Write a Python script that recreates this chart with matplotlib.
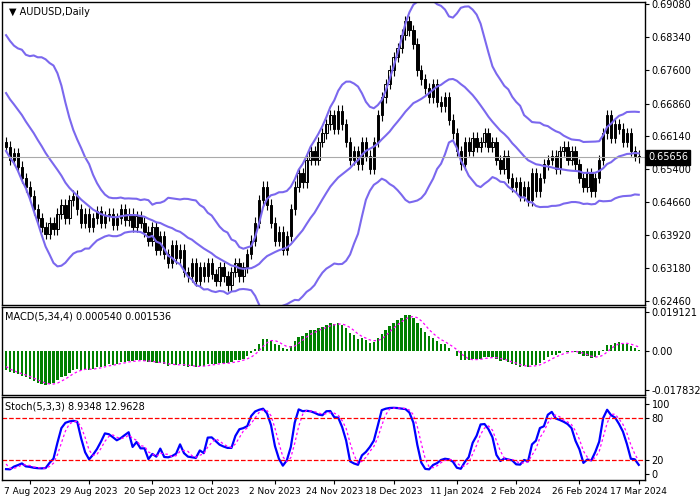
import numpy as np
import matplotlib
matplotlib.use('Agg')
import matplotlib.pyplot as plt

# history used only to warm up the indicators
history = [0.6820, 0.6840, 0.6800, 0.6780, 0.6760, 0.6790, 0.6740, 0.6710, 0.6730, 0.6690,
           0.6700, 0.6680, 0.6650, 0.6690, 0.6720, 0.6740, 0.6700, 0.6660, 0.6620, 0.6600]

closes = [0.6590, 0.6560, 0.6575,
          0.6545, 0.6520, 0.6500, 0.6480, 0.6450, 0.6430, 0.6410, 0.6395,
          0.6420, 0.6405, 0.6440, 0.6460, 0.6430, 0.6470, 0.6480,
          0.6450, 0.6420, 0.6440, 0.6410, 0.6430, 0.6445, 0.6420, 0.6435, 0.6440, 0.6415, 0.6430,
          0.6450, 0.6425, 0.6440, 0.6410, 0.6435, 0.6420,
          0.6400, 0.6380, 0.6410, 0.6360, 0.6390, 0.6350, 0.6330, 0.6370,
          0.6340, 0.6360, 0.6310, 0.6300, 0.6330, 0.6290, 0.6320, 0.6300,
          0.6330, 0.6305, 0.6290, 0.6320, 0.6300, 0.6280, 0.6310, 0.6330, 0.6300, 0.6320,
          0.6350, 0.6380, 0.6420, 0.6470, 0.6500,
          0.6460, 0.6420, 0.6380, 0.6400, 0.6360, 0.6390,
          0.6450, 0.6500, 0.6530, 0.6510, 0.6560, 0.6580, 0.6560, 0.6600, 0.6620,
          0.6640, 0.6660, 0.6630, 0.6670, 0.6640, 0.6600,
          0.6560, 0.6580, 0.6550, 0.6600, 0.6570, 0.6540, 0.6600,
          0.6660, 0.6700, 0.6730, 0.6760, 0.6790,
          0.6810, 0.6840, 0.6870, 0.6850, 0.6820, 0.6760,
          0.6740, 0.6720, 0.6700, 0.6730, 0.6690, 0.6680, 0.6700, 0.6650,
          0.6620, 0.6580, 0.6550, 0.6600, 0.6580, 0.6610, 0.6590, 0.6600,
          0.6620, 0.6590, 0.6600, 0.6560, 0.6540, 0.6570, 0.6520, 0.6500,
          0.6510, 0.6480, 0.6500, 0.6470, 0.6530, 0.6490, 0.6520, 0.6550,
          0.6560, 0.6570, 0.6540, 0.6580, 0.6590, 0.6560, 0.6580, 0.6550,
          0.6520, 0.6500, 0.6530, 0.6490, 0.6520, 0.6560,
          0.6620, 0.6660, 0.6610, 0.6640, 0.6630, 0.6600,
          0.6620, 0.6580, 0.6570, 0.65656]

date_labels = ['7 Aug 2023', '29 Aug 2023', '20 Sep 2023', '12 Oct 2023', '2 Nov 2023',
               '24 Nov 2023', '18 Dec 2023', '11 Jan 2024', '2 Feb 2024', '26 Feb 2024', '17 Mar 2024']
date_idx = [6, 21, 37, 52, 68, 83, 98, 114, 129, 145, 160]
price_ticks = [0.69080, 0.68340, 0.67600, 0.66860, 0.66140, 0.65400, 0.64660, 0.63920, 0.63180, 0.62460]

allc = np.array(history + closes)
opens = np.concatenate([[allc[0]], allc[:-1]])
wick = 0.0012
highs = np.maximum(opens, allc) + wick
lows = np.minimum(opens, allc) - wick
H = len(history)
n = len(closes)
x = np.arange(n)

def ema(a, p):
    out = np.zeros_like(a); k = 2 / (p + 1); out[0] = a[0]
    for i in range(1, len(a)):
        out[i] = a[i] * k + out[i - 1] * (1 - k)
    return out

def sma(a, p):
    return np.array([a[max(0, i - p + 1):i + 1].mean() for i in range(len(a))])

mid = sma(allc, 20)
sd = np.array([allc[max(0, i - 19):i + 1].std() for i in range(len(allc))])
up, dn = mid + 2 * sd, mid - 2 * sd

macd = ema(allc, 5) - ema(allc, 34)
sig = sma(macd, 4)

ll = np.array([lows[max(0, i - 4):i + 1].min() for i in range(len(allc))])
hh = np.array([highs[max(0, i - 4):i + 1].max() for i in range(len(allc))])
num = sma(allc - ll, 3); den = sma(hh - ll, 3)
k = 100 * num / den
d = sma(k, 3)

band_c = '#7b68ee'
fig = plt.figure(figsize=(7, 5), dpi=100)
ax = fig.add_axes([0.003, 0.39, 0.918, 0.606])
ax2 = fig.add_axes([0.003, 0.21, 0.918, 0.176])
ax3 = fig.add_axes([0.003, 0.04, 0.918, 0.166])

o = opens[H:]; c = allc[H:]; h = highs[H:]; l = lows[H:]
for i in range(n):
    ax.vlines(x[i], l[i], h[i], color='black', lw=0.8)
    bull = c[i] >= o[i]
    ax.bar(x[i], max(abs(c[i] - o[i]), 0.0001), bottom=min(o[i], c[i]), width=0.6,
           color='white' if bull else 'black', edgecolor='black', lw=0.7)
for b in (up, mid, dn):
    ax.plot(x, b[H:], color=band_c, lw=1.5)
ax.axhline(closes[-1], color='#aaaaaa', lw=0.8)
ax.set_ylim(0.6236, 0.6913)
ax.set_xlim(-1, n + 0.5)
ax.yaxis.tick_right()
ax.set_yticks(price_ticks)
ax.set_yticklabels(['%.5f' % p for p in price_ticks], fontsize=7)
ax.set_xticks([])
ax.text(1.005, closes[-1], '%.5f' % closes[-1], transform=ax.get_yaxis_transform(),
        fontsize=7, color='white', va='center', bbox=dict(fc='black', ec='black', pad=1.5))
ax.text(0.01, 0.985, '▼ AUDUSD,Daily', transform=ax.transAxes, fontsize=7, va='top')

m = macd[H:]; s = sig[H:]
ax2.bar(x, m, width=0.6, color='#008000')
ax2.plot(x, s, color='#ff00ff', lw=0.9, ls=(0, (2, 2)))
lo, hi = m.min() * 1.15, m.max() * 1.1
ax2.set_ylim(lo * 1.12, hi * 1.12)
ax2.set_xlim(-1, n + 0.5)
ax2.yaxis.tick_right()
ax2.set_yticks([hi, 0, lo])
ax2.set_yticklabels(['0.019121', '0.00', '-0.017832'], fontsize=7)
ax2.set_xticks([])
ax2.text(0.005, 0.95, 'MACD(5,34,4) 0.000540 0.001536', transform=ax2.transAxes, fontsize=7, va='top')

ax3.plot(x, k[H:], color='#0000ff', lw=1.6)
ax3.plot(x, d[H:], color='#ff00ff', lw=0.9, ls=(0, (2, 2)))
ax3.axhline(80, color='red', lw=0.9, ls='--')
ax3.axhline(20, color='red', lw=0.9, ls='--')
ax3.set_ylim(-8, 110)
ax3.set_xlim(-1, n + 0.5)
ax3.yaxis.tick_right()
ax3.set_yticks([100, 80, 20, 0])
ax3.set_yticklabels(['100', '80', '20', '0'], fontsize=7)
ax3.set_xticks(date_idx)
ax3.set_xticklabels(date_labels, fontsize=6.5)
ax3.text(0.005, 0.95, 'Stoch(5,3,3) 8.9348 12.9628', transform=ax3.transAxes, fontsize=7, va='top')

for a in (ax, ax2, ax3):
    a.tick_params(length=3, pad=2)
    for sp in a.spines.values():
        sp.set_linewidth(1)

fig.savefig('out.png', dpi=100)
